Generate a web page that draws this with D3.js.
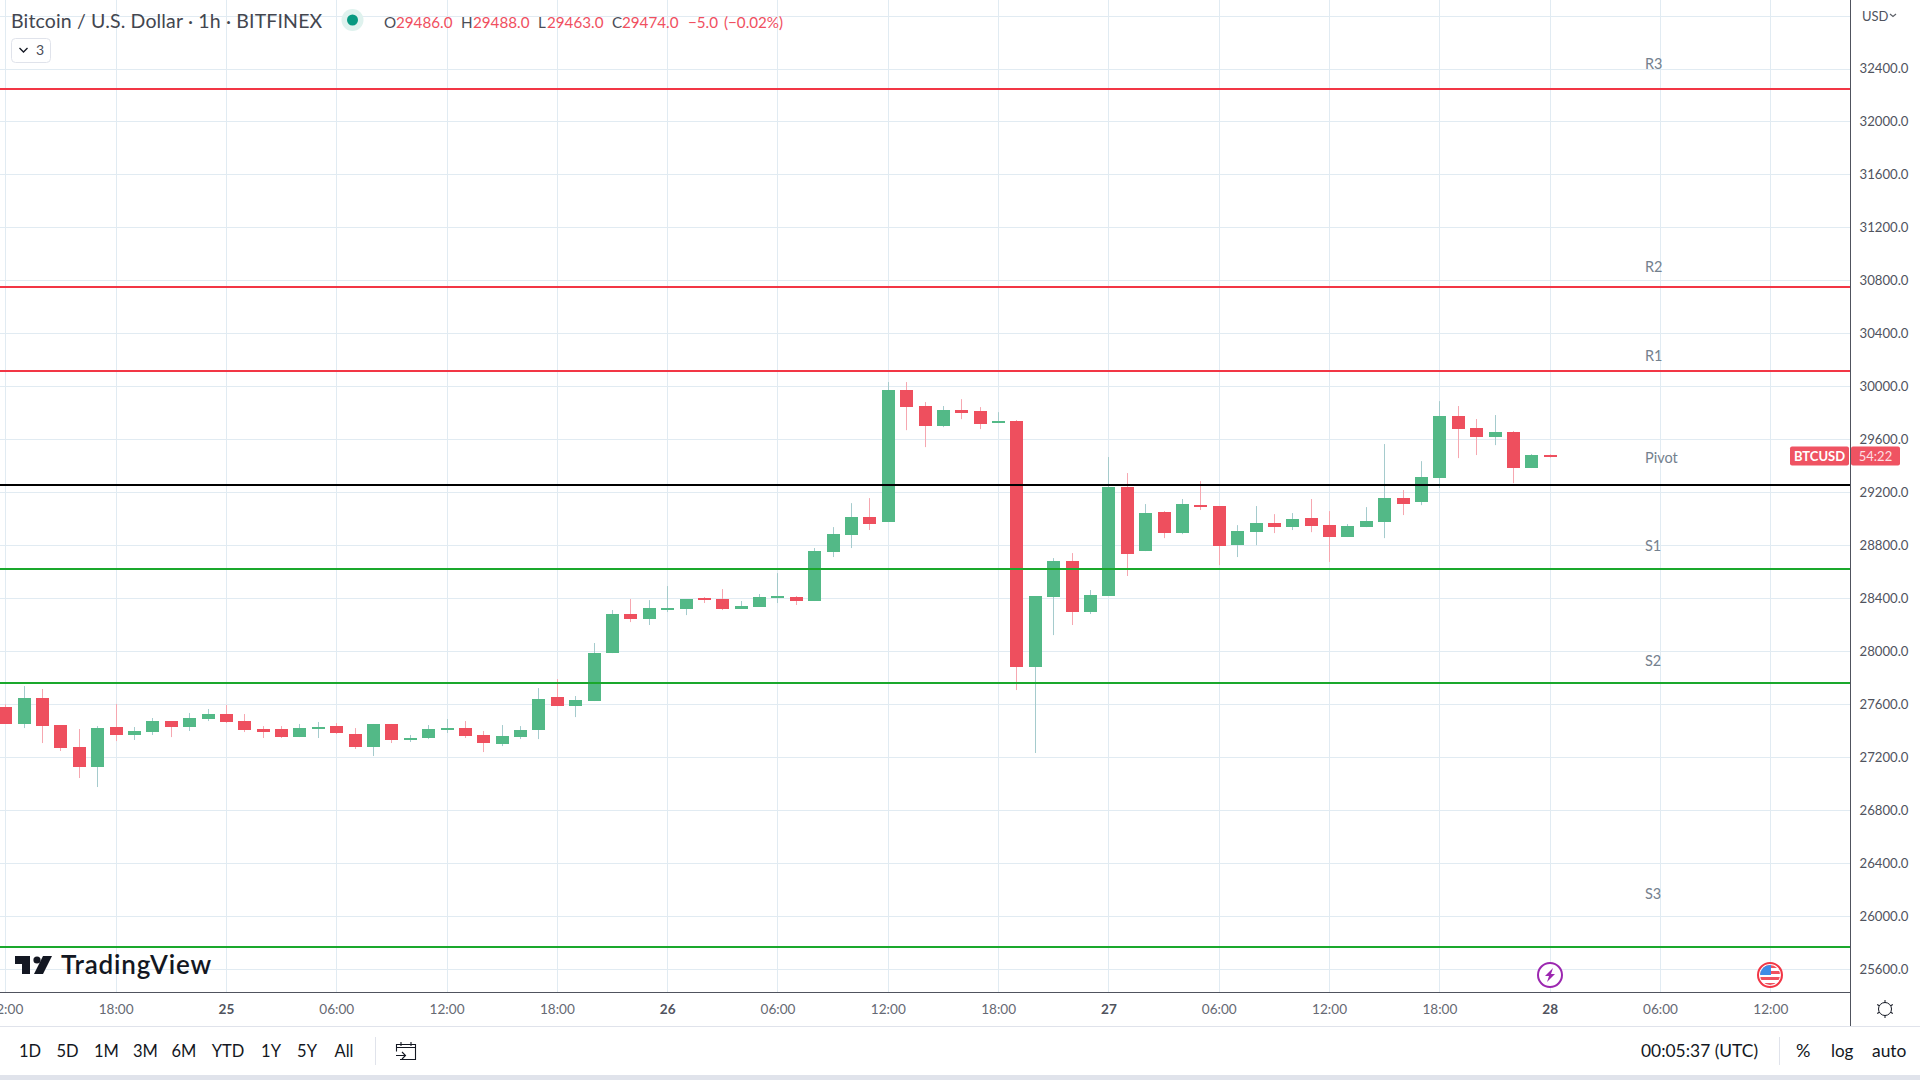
<!DOCTYPE html>
<html>
<head>
<meta charset="utf-8">
<title>BTCUSD 1h</title>
<script src="https://cdn.jsdelivr.net/npm/d3@7"></script>
<style>
  html, body { margin: 0; padding: 0; background: #fff; }
  svg { display: block; }
  text { font-family: Lato, "Open Sans", sans-serif; }
</style>
</head>
<body>
<div id="chart"></div>
<script>
// hourly candles, first one is Apr 24 12:00 UTC
const startTime = Date.UTC(2023, 3, 24, 12);
const opens = [27580, 27452, 27648, 27444, 27278, 27127, 27429, 27369, 27391, 27474, 27429, 27489, 27527, 27474, 27414, 27414, 27353, 27421, 27436, 27376, 27278, 27452, 27338, 27346, 27406, 27421, 27369, 27301, 27353, 27406, 27655, 27587, 27625, 27987, 28282, 28244, 28320, 28320, 28403, 28395, 28320, 28335, 28403, 28410, 28380, 28750, 28878, 29014, 28976, 29972, 29852, 29701, 29821, 29814, 29723, 29738, 27882, 28410, 28682, 28297, 28418, 29240, 28757, 29051, 28893, 29104, 29097, 28802, 28900, 28968, 28938, 29006, 28953, 28863, 28938, 28976, 29157, 29127, 29308, 29776, 29686, 29618, 29655, 29384, 29486];
const highs = [27600, 27738, 27716, 27444, 27414, 27436, 27602, 27429, 27497, 27474, 27535, 27565, 27595, 27527, 27436, 27436, 27452, 27467, 27459, 27421, 27452, 27452, 27369, 27444, 27489, 27474, 27399, 27444, 27436, 27723, 27791, 27663, 28063, 28312, 28395, 28387, 28493, 28395, 28410, 28470, 28380, 28433, 28591, 28418, 28780, 28938, 29119, 29157, 30033, 30033, 29882, 29852, 29904, 29844, 29806, 29746, 28418, 28704, 28742, 28463, 29467, 29346, 29112, 29059, 29150, 29285, 29097, 28953, 29097, 29036, 29044, 29150, 29059, 28961, 29089, 29565, 29218, 29436, 29889, 29852, 29754, 29784, 29663, 29489, 29488];
const lows = [27452, 27421, 27308, 27248, 27044, 26976, 27323, 27331, 27369, 27353, 27399, 27474, 27459, 27391, 27346, 27346, 27353, 27346, 27376, 27263, 27210, 27308, 27316, 27338, 27384, 27346, 27240, 27285, 27338, 27338, 27587, 27504, 27625, 27987, 28221, 28199, 28297, 28274, 28365, 28312, 28320, 28335, 28365, 28350, 28380, 28712, 28780, 28916, 28976, 29670, 29542, 29693, 29753, 29678, 29723, 27708, 27233, 28123, 28199, 28282, 28418, 28569, 28757, 28855, 28885, 29067, 28651, 28712, 28802, 28893, 28916, 28900, 28675, 28863, 28938, 28855, 29029, 29104, 29233, 29459, 29482, 29557, 29270, 29384, 29463];
const closes = [27452, 27648, 27436, 27270, 27127, 27421, 27369, 27399, 27474, 27429, 27497, 27527, 27467, 27406, 27391, 27353, 27421, 27429, 27384, 27278, 27452, 27331, 27346, 27414, 27421, 27361, 27308, 27361, 27406, 27640, 27587, 27633, 27987, 28282, 28244, 28327, 28327, 28395, 28387, 28320, 28342, 28410, 28418, 28380, 28757, 28885, 29014, 28961, 29972, 29844, 29701, 29821, 29799, 29716, 29738, 27882, 28418, 28682, 28297, 28425, 29240, 28735, 29044, 28893, 29112, 29089, 28795, 28908, 28968, 28938, 28999, 28946, 28863, 28946, 28984, 29157, 29112, 29316, 29776, 29678, 29618, 29655, 29384, 29482, 29474];

const levelNames = ['R3', 'R2', 'R1', 'Pivot', 'S1', 'S2', 'S3'];
const levelValues = [32245, 30754, 30117, 29255, 28622, 27761, 25771];
const levelColors = ['#f23645', '#f23645', '#f23645', '#000000', '#1aa82c', '#1aa82c', '#1aa82c'];
const levelLabelValues = [32434, 30902, 30232, 29458, 28796, 27928, 26169];

const priceTicks = [25600, 26000, 26400, 26800, 27200, 27600, 28000, 28400, 28800, 29200, 29600, 30000, 30400, 30800, 31200, 31600, 32000, 32400];
const timeLabels = ['12:00', '18:00', '25', '06:00', '12:00', '18:00', '26', '06:00', '12:00', '18:00', '27', '06:00', '12:00', '18:00', '28', '06:00', '12:00'];
const rangeButtons = ['1D', '5D', '1M', '3M', '6M', 'YTD', '1Y', '5Y', 'All'];

const width = 1920;
const height = 1080;
const axisX = 1850.5;
const axisY = 992.5;

const hour = 3600000;
const timeTicks = timeLabels.map((d, i) => new Date(startTime + i * 6 * hour));

const x = d3.scaleUtc()
  .domain([new Date(startTime), new Date(startTime + 96 * hour)])
  .range([5.3, 1770.3]);

const y = d3.scaleLinear()
  .domain([25600, 32400])
  .range([969.3, 68.5]);

const svg = d3.select('#chart')
  .append('svg')
  .attr('width', width)
  .attr('height', height)
  .attr('viewBox', '0 0 1920 1080');

svg.append('clipPath').attr('id', 'pane')
  .append('rect').attr('width', axisX).attr('height', axisY);

const pane = svg.append('g').attr('clip-path', 'url(#pane)');

// grid, one extra row above the last labelled price
pane.selectAll('.hgrid')
  .data(priceTicks.concat(32800))
  .enter().append('line')
  .attr('class', 'hgrid')
  .attr('x1', 0).attr('x2', axisX)
  .attr('y1', d => Math.round(y(d)) + 0.5).attr('y2', d => Math.round(y(d)) + 0.5)
  .attr('stroke', '#e1ebf2');

pane.selectAll('.vgrid')
  .data(timeTicks)
  .enter().append('line')
  .attr('class', 'vgrid')
  .attr('x1', d => Math.round(x(d)) + 0.5).attr('x2', d => Math.round(x(d)) + 0.5)
  .attr('y1', 0).attr('y2', axisY)
  .attr('stroke', '#e1ebf2');

// candles
const up = i => closes[i] >= opens[i];
const candleX = i => Math.round(x(new Date(startTime + i * hour)));

const candles = pane.selectAll('.candle')
  .data(opens)
  .enter().append('g')
  .attr('class', 'candle');

candles.append('rect')
  .attr('x', (d, i) => candleX(i))
  .attr('width', 1)
  .attr('y', (d, i) => y(highs[i]))
  .attr('height', (d, i) => y(lows[i]) - y(highs[i]))
  .attr('fill', (d, i) => up(i) ? '#a5cbcd' : '#f6a7b0');

candles.append('rect')
  .attr('x', (d, i) => candleX(i) - 6)
  .attr('width', 13)
  .attr('y', (d, i) => Math.round(y(Math.max(opens[i], closes[i]))))
  .attr('height', (d, i) => Math.max(2, Math.round(Math.abs(y(opens[i]) - y(closes[i])))))
  .attr('fill', (d, i) => up(i) ? '#53b987' : '#ee4f5e');

// pivot levels sit on top of the candles
pane.selectAll('.level')
  .data(levelValues)
  .enter().append('rect')
  .attr('class', 'level')
  .attr('x', 0).attr('width', axisX)
  .attr('y', d => Math.round(y(d)) - 1)
  .attr('height', 2)
  .attr('fill', (d, i) => levelColors[i]);

pane.selectAll('.level-label')
  .data(levelNames)
  .enter().append('text')
  .attr('class', 'level-label')
  .attr('x', 1645)
  .attr('y', (d, i) => y(levelLabelValues[i]))
  .attr('dy', '.35em')
  .attr('font-size', 14.5)
  .attr('fill', '#74818e')
  .text(d => d);

// price axis
const priceAxis = svg.append('g')
  .attr('transform', 'translate(' + axisX + ',0)')
  .call(d3.axisRight(y).tickValues(priceTicks).tickSize(0).tickPadding(9).tickFormat(d3.format('.1f')));
priceAxis.select('.domain').remove();
priceAxis.selectAll('text')
  .attr('font-family', 'Lato, sans-serif')
  .attr('font-size', 13.2)
  .attr('fill', '#50535e');

// time axis
const timeAxis = svg.append('g')
  .attr('transform', 'translate(0,' + axisY + ')')
  .call(d3.axisBottom(x).tickValues(timeTicks).tickSize(0).tickPadding(12).tickFormat((d, i) => timeLabels[i]));
timeAxis.select('.domain').remove();
timeAxis.selectAll('text')
  .attr('font-family', 'Lato, sans-serif')
  .attr('font-size', 13.6)
  .attr('font-weight', (d, i) => timeLabels[i].length == 2 ? 700 : 400)
  .attr('fill', (d, i) => timeLabels[i].length == 2 ? '#50535e' : '#666973');

// frame lines
svg.append('line').attr('x1', axisX).attr('x2', axisX).attr('y1', 0).attr('y2', 1026).attr('stroke', '#50535e');
svg.append('line').attr('x1', 0).attr('x2', axisX).attr('y1', axisY).attr('y2', axisY).attr('stroke', '#50535e');
svg.append('line').attr('x1', 0).attr('x2', width).attr('y1', 1026.5).attr('y2', 1026.5).attr('stroke', '#e0e3eb');
svg.append('rect').attr('x', 0).attr('y', 1075).attr('width', width).attr('height', 5).attr('fill', '#e0e3eb');

// header
svg.append('text').attr('x', 11).attr('y', 28).attr('font-size', 19.5).attr('letter-spacing', 0.15).attr('fill', '#43464f')
  .text('Bitcoin / U.S. Dollar · 1h · BITFINEX');
svg.append('circle').attr('cx', 352.5).attr('cy', 20).attr('r', 11).attr('fill', '#dff2ee');
svg.append('circle').attr('cx', 352.5).attr('cy', 20).attr('r', 5.5).attr('fill', '#089981');

const legendParts = [
  ['O', 384, '#4a4d57'], ['29486.0', 396, '#f0505f'],
  ['H', 461, '#4a4d57'], ['29488.0', 473, '#f0505f'],
  ['L', 538, '#4a4d57'], ['29463.0', 547, '#f0505f'],
  ['C', 612, '#4a4d57'], ['29474.0', 622, '#f0505f'],
  ['−5.0', 688, '#f0505f'], ['(−0.02%)', 724, '#f0505f']
];
svg.selectAll('.ohlc')
  .data(legendParts)
  .enter().append('text')
  .attr('class', 'ohlc')
  .attr('x', d => d[1]).attr('y', 28)
  .attr('font-size', 15.2)
  .attr('fill', d => d[2])
  .text(d => d[0]);

svg.append('rect').attr('x', 11.5).attr('y', 38.5).attr('width', 39).attr('height', 24).attr('rx', 4)
  .attr('fill', '#fff').attr('stroke', '#e0e3eb');
svg.append('path').attr('d', 'M19.5 48l4 4 4-4').attr('fill', 'none').attr('stroke', '#131722').attr('stroke-width', 1.3);
svg.append('text').attr('x', 36).attr('y', 55).attr('font-size', 14).attr('fill', '#4a4d57').text('3');

svg.append('text').attr('x', 1862).attr('y', 21).attr('font-size', 13).attr('fill', '#50535e').text('USD');
svg.append('path').attr('d', 'M1890 14l3 2.5 3-2.5').attr('fill', 'none').attr('stroke', '#5d6068').attr('stroke-width', 1.2);

// last price badges
const lastY = y(closes[closes.length - 1]);
svg.append('rect').attr('x', 1790).attr('y', lastY - 9.5).attr('width', 59).attr('height', 19).attr('rx', 2).attr('fill', '#ef5362');
svg.append('rect').attr('x', 1851).attr('y', lastY - 9.5).attr('width', 49).attr('height', 19).attr('rx', 2).attr('fill', '#ef5362');
svg.append('text').attr('x', 1819.5).attr('y', lastY).attr('dy', '.35em').attr('text-anchor', 'middle')
  .attr('font-size', 13).attr('font-weight', 700).attr('fill', '#fff').text('BTCUSD');
svg.append('text').attr('x', 1875.5).attr('y', lastY).attr('dy', '.35em').attr('text-anchor', 'middle')
  .attr('font-size', 13).attr('fill', '#fddfe2').text('54:22');

// TradingView logo
const logo = svg.append('g').attr('fill', '#131722');
logo.append('path').attr('d', 'M15 956h15v18h-8v-10h-7z');
logo.append('circle').attr('cx', 37).attr('cy', 960).attr('r', 3.6);
logo.append('path').attr('d', 'M43 956h9l-9 18h-9z');
svg.append('text').attr('x', 61).attr('y', 974).attr('font-family', 'Inter, sans-serif').attr('font-size', 26)
  .attr('letter-spacing', 0.8).attr('font-weight', 600).attr('fill', '#131722').text('TradingView');

// event markers
const bolt = svg.append('g').attr('transform', 'translate(1550,975)');
bolt.append('circle').attr('r', 12).attr('fill', '#fff').attr('stroke', '#9c27b0').attr('stroke-width', 2);
bolt.append('path').attr('d', 'M3-7L-5 1h4L-3 7 5-1H1z').attr('fill', '#9c27b0');

svg.append('clipPath').attr('id', 'flagClip').append('circle').attr('cx', 1770).attr('cy', 975).attr('r', 10);
const flag = svg.append('g').attr('clip-path', 'url(#flagClip)');
flag.append('rect').attr('x', 1760).attr('y', 965).attr('width', 20).attr('height', 20).attr('fill', '#fff');
flag.selectAll('.stripe')
  .data([965, 971, 977, 983])
  .enter().append('rect')
  .attr('x', 1760).attr('y', d => d).attr('width', 20).attr('height', 3).attr('fill', '#f0525f');
flag.append('rect').attr('x', 1760).attr('y', 965).attr('width', 11).attr('height', 10).attr('fill', '#3f8ce6');
svg.append('circle').attr('cx', 1770).attr('cy', 975).attr('r', 12).attr('fill', 'none').attr('stroke', '#f23645').attr('stroke-width', 2);

// settings gear in the axis corner
const gear = svg.append('g').attr('transform', 'translate(1885,1009)').attr('fill', 'none').attr('stroke', '#131722');
gear.append('circle').attr('r', 6.5);
gear.selectAll('.tooth')
  .data(d3.range(0, 360, 60))
  .enter().append('line')
  .attr('y1', -6.5).attr('y2', -9)
  .attr('transform', d => 'rotate(' + d + ')');

// bottom toolbar
const rangeCentres = [30, 67.5, 106.5, 145.5, 184, 228, 271, 307, 344];
svg.selectAll('.range')
  .data(rangeButtons)
  .enter().append('text')
  .attr('class', 'range')
  .attr('x', (d, i) => rangeCentres[i]).attr('y', 1057)
  .attr('text-anchor', 'middle')
  .attr('font-size', 16.5)
  .attr('fill', '#131722')
  .text(d => d);

svg.append('line').attr('x1', 375.5).attr('x2', 375.5).attr('y1', 1037).attr('y2', 1065).attr('stroke', '#e0e3eb');
const calendar = svg.append('g').attr('fill', 'none').attr('stroke', '#131722').attr('stroke-width', 1.1);
calendar.append('path').attr('d', 'M400 1059.5h15.5v-15h-19v7M396.500 1047.500h19M401 1042v4M411 1042v4M396 1055.500h9M402 1052l3.500 3.500-3.500 3.500');

svg.append('line').attr('x1', 1779.5).attr('x2', 1779.5).attr('y1', 1037).attr('y2', 1065).attr('stroke', '#e0e3eb');
svg.append('text').attr('x', 1641).attr('y', 1057).attr('font-size', 17.4).attr('fill', '#131722').text('00:05:37 (UTC)');
svg.append('text').attr('x', 1796).attr('y', 1057).attr('font-size', 18).attr('fill', '#131722').text('%');
svg.append('text').attr('x', 1831).attr('y', 1057).attr('font-size', 17).attr('fill', '#131722').text('log');
svg.append('text').attr('x', 1872).attr('y', 1057).attr('font-size', 17.4).attr('fill', '#131722').text('auto');
</script>
</body>
</html>
